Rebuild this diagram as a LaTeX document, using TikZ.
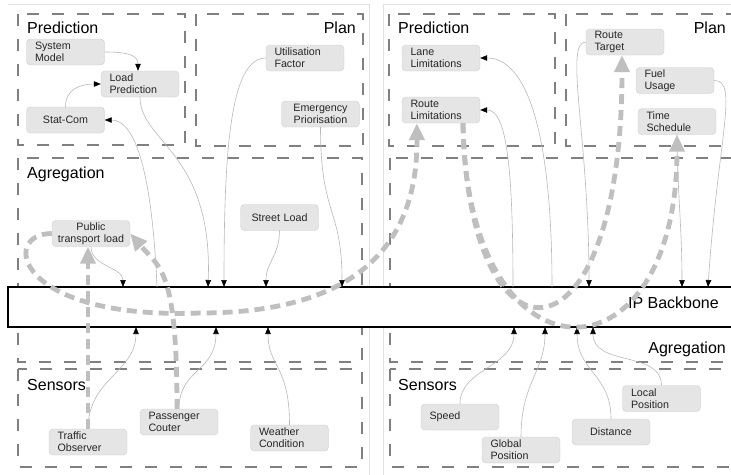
\documentclass[tikz,border=0pt]{standalone}
\usepackage{fontspec}
\setmainfont{Liberation Sans}
\usetikzlibrary{arrows.meta}

\begin{document}
\begin{tikzpicture}[x=1pt,y=-1pt,
    unit/.style={draw=black!20,fill=black!10,rounded corners=4pt,text width=61pt,inner xsep=8.5pt,inner ysep=1.5pt,minimum height=26pt,align=left,font=\fontsize{10.7}{12}\selectfont,text=black!85},
    unitc/.style={unit,text width=70pt,inner xsep=4pt,align=center},
    zone/.style={draw=black!50,line width=2.6pt,dash pattern=on 12pt off 13pt},
    panel/.style={draw=black!12,line width=0.8pt},
    lbl/.style={font=\fontsize{16}{19}\selectfont,inner sep=0pt},
    link/.style={draw=black!28,line width=0.6pt,-{Triangle[color=black,length=7pt,width=5.5pt]}},
    flow/.style={draw=black!25,line width=4.8pt,dash pattern=on 10pt off 6pt,-{Triangle[length=17pt,width=15pt]}}]
\useasboundingbox (0,0) rectangle (731,474);
\clip (0,0) rectangle (731,474);

% Panels and zones
\draw[panel] (8,4) -| (369,480);
\draw[panel] (383,4) rectangle (745,480);
\draw[zone] (18,14) rectangle (185,145);
\draw[zone] (196,14) rectangle (363,146);
\draw[zone] (18,158) rectangle (362,362);
\draw[zone] (18,369) rectangle (362,467);
\draw[zone] (389,14) rectangle (555,146);
\draw[zone] (566,14) rectangle (745,146);
\draw[zone] (390,158) rectangle (745,362);
\draw[zone] (390,369) rectangle (745,467);

\node[lbl,anchor=base west] (predL) at (27,33) {Prediction};
\node[lbl,anchor=base east] (planL) at (356,33) {Plan};
\node[lbl,anchor=base west] (agrL) at (27,178) {Agregation};
\node[lbl,anchor=base west] (senL) at (27,390) {Sensors};
\node[lbl,anchor=base west] (predR) at (398,33) {Prediction};
\node[lbl,anchor=base east] (planR) at (726,33) {Plan};
\node[lbl,anchor=base east] (agrR) at (726,353) {Agregation};
\node[lbl,anchor=base west] (senR) at (398,390) {Sensors};

% Backbone
\node[draw,line width=2pt,fill=white,anchor=north west,minimum width=745pt,minimum height=40pt,inner sep=0pt,outer sep=0pt] (bb) at (8,287) {};
\node[lbl,anchor=base east] (bbname) at (719,308) {IP Backbone};

% Nodes
\node[unit] (sysmodel) at (65.5,52) {System\\Model};
\node[unit] (loadpred) at (140,84) {Load\\Prediction};
\node[unitc] (statcom) at (65.5,120) {Stat-Com};
\node[unit] (utilfac) at (305,58) {Utilisation\\Factor};
\node[unitc] (emerg) at (320.5,114) {Emergency\\Priorisation};
\node[unitc] (pubload) at (91,233.5) {Public\\transport load};
\node[unitc] (streetld) at (279.5,217.5) {Street Load};
\node[unit] (traffic) at (88,442) {Traffic\\Observer};
\node[unit] (passenger) at (179,422) {Passenger\\Couter};
\node[unit] (weather) at (289.5,438) {Weather\\Condition};
\node[unit] (lanelim) at (441,58) {Lane\\Limitations};
\node[unit] (routelim) at (441,110) {Route\\Limitations};
\node[unit] (routetgt) at (625,42) {Route\\Target};
\node[unit] (fuel) at (675,80.5) {Fuel\\Usage};
\node[unit] (timesch) at (677,121.5) {Time\\Schedule};
\node[unit] (speed) at (460,417) {Speed};
\node[unit] (globalpos) at (521,450) {Global\\Position};
\node[unitc] (distance) at (611,432) {Distance};
\node[unit] (localpos) at (661.5,398.5) {Local\\Position};

% Links
\draw[link] (sysmodel.east) .. controls +(25,0) and +(0,-15) .. ([xshift=-2pt]loadpred.north);
\draw[link] (statcom.north) .. controls +(0,-18) and +(-20,0) .. (loadpred.west);
\draw[link] (loadpred.south) .. controls +(0,45) and +(5,-135) .. (208,0 |- bb.north);
\draw[link] (157,0 |- bb.north) .. controls +(-5,-117) and +(30,0) .. (statcom.east);
\draw[link] (utilfac.west) .. controls +(-35,0) and +(0,-140) .. (224,0 |- bb.north);
\draw[link] (streetld.south) .. controls +(0,25) and +(0,-25) .. (266,0 |- bb.north);
\draw[link] (emerg.south) .. controls +(0,90) and +(0,-80) .. (342,0 |- bb.north);
\draw[link] (pubload.south) .. controls +(0,20) and +(0,-20) .. (123,0 |- bb.north);
\draw[link] (traffic.north) .. controls +(0,-50) and +(0,45) .. (136,0 |- bb.south);
\draw[link] (passenger.north) .. controls +(0,-40) and +(0,45) .. (216,0 |- bb.south);
\draw[link] (weather.north) .. controls +(0,-60) and +(0,40) .. (268,0 |- bb.south);
\draw[link] (552,0 |- bb.north) .. controls +(0,-160) and +(45,0) .. (lanelim.east);
\draw[link] (513,0 |- bb.north) .. controls +(0,-130) and +(25,0) .. (routelim.east);
\draw[link] (routetgt.west) .. controls +(-22,0) and +(0,-150) .. (589,0 |- bb.north);
\draw[link] (fuel.east) .. controls +(25,0) and +(10,-150) .. (708,0 |- bb.north);
\draw[link] (timesch.south) .. controls +(0,50) and +(0,-60) .. (682,0 |- bb.north);
\draw[link] (speed.north) .. controls +(0,-35) and +(0,40) .. (514,0 |- bb.south);
\draw[link] (globalpos.north) .. controls +(0,-55) and +(0,45) .. (545,0 |- bb.south);
\draw[link] (distance.north) .. controls +(0,-45) and +(0,45) .. (577,0 |- bb.south);
\draw[link] (localpos.north) .. controls +(0,-35) and +(0,40) .. (593,0 |- bb.south);

% Flows
\draw[flow] (traffic.north) -- (traffic.north |- pubload.south);
\draw[flow] ([xshift=-2pt]passenger.north) .. controls +(0,-140) and +(30,35) .. (pubload.east);
\draw[flow] (pubload.west) .. controls +(-52,0) and +(-185,7) .. (200,313) .. controls +(150,0) and +(1,127) .. ([xshift=15pt]routelim.south west);
\draw[flow] ([xshift=22pt]routelim.south) .. controls +(5,254) and +(0,322) .. ([xshift=-3pt]routetgt.south);
\draw[flow] ([xshift=22pt]routelim.south) .. controls +(3,267) and +(0,256) .. (timesch.south);
\end{tikzpicture}
\end{document}
